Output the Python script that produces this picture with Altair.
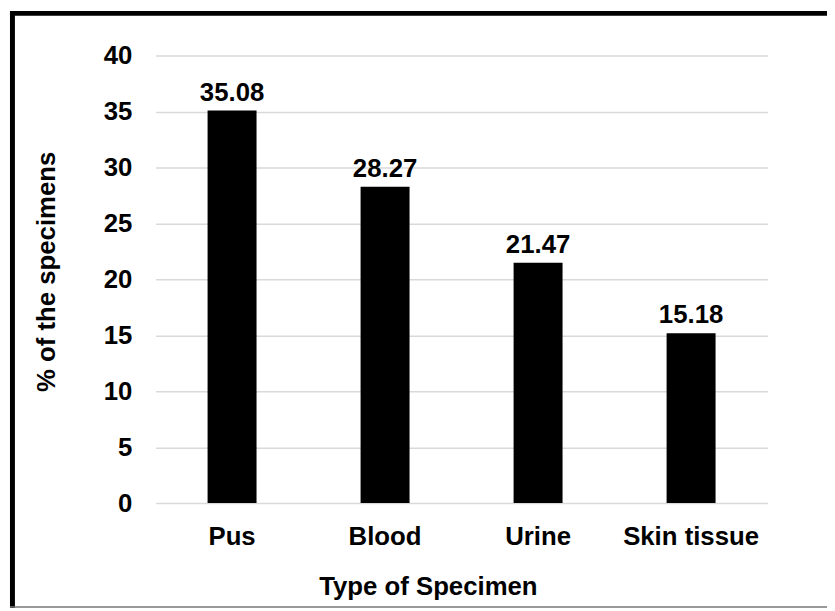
import altair as alt
import pandas as pd

categories = ["Pus", "Blood", "Urine", "Skin tissue"]
values = [35.08, 28.27, 21.47, 15.18]
y_ticks = [0, 5, 10, 15, 20, 25, 30, 35, 40]

df = pd.DataFrame({"type": categories, "pct": values})
frame_df = pd.DataFrame({"k": [0]})

FONT = "Liberation Sans"

x_enc = alt.X(
    "type:N",
    sort=categories,
    title="Type of Specimen",
    scale=alt.Scale(paddingInner=0.68, paddingOuter=0.34),
    axis=alt.Axis(
        labelAngle=0,
        labelPadding=21,
        ticks=False,
        tickSize=0,
        domain=False,
        grid=False,
        titleX=275,
        titleY=92,
        titleBaseline="alphabetic",
        titleAlign="center",
    ),
)
y_enc = alt.Y(
    "pct:Q",
    title="% of the specimens",
    scale=alt.Scale(domain=[0, 40], nice=False),
    axis=alt.Axis(
        values=y_ticks,
        labelPadding=24,
        ticks=False,
        tickSize=0,
        domain=False,
        grid=True,
        gridColor="#d9d9d9",
        gridWidth=1.5,
        titleAngle=-90,
        titleX=-102,
        titleY=218,
        titleBaseline="alphabetic",
        titleAlign="center",
    ),
)

bars = alt.Chart(df).mark_bar(color="black").encode(x=x_enc, y=y_enc)

labels = alt.Chart(df).mark_text(
    dy=-10, baseline="alphabetic", fontSize=26, font=FONT, fontWeight="bold", color="black"
).encode(
    x=alt.X("type:N", sort=categories),
    y=alt.Y("pct:Q"),
    text=alt.Text("pct:Q", format=".2f"),
)

frame_top = alt.Chart(frame_df).mark_rule(color="black", strokeWidth=5).encode(
    x=alt.value(-147), x2=alt.value(678), y=alt.value(-42.5)
)
frame_left = alt.Chart(frame_df).mark_rule(color="black", strokeWidth=5).encode(
    x=alt.value(-144.5), y=alt.value(-45), y2=alt.value(558)
)
frame_bottom = alt.Chart(frame_df).mark_rule(color="#777777", strokeWidth=1.5).encode(
    x=alt.value(-147), x2=alt.value(678), y=alt.value(557)
)

chart = (
    alt.layer(bars, labels, frame_top, frame_left, frame_bottom)
    .properties(
        width=618,
        height=452,
        autosize=alt.AutoSizeParams(type="none"),
        padding={"left": 149, "top": 45, "right": 60, "bottom": 106},
        background="white",
    )
    .configure_view(stroke=None)
    .configure_axis(
        labelFont=FONT,
        labelFontSize=26,
        labelFontWeight="bold",
        labelColor="black",
        titleFont=FONT,
        titleFontSize=26,
        titleFontWeight="bold",
        titleColor="black",
    )
)

chart.save("out.html", embed_options={"renderer": "svg", "actions": False})
